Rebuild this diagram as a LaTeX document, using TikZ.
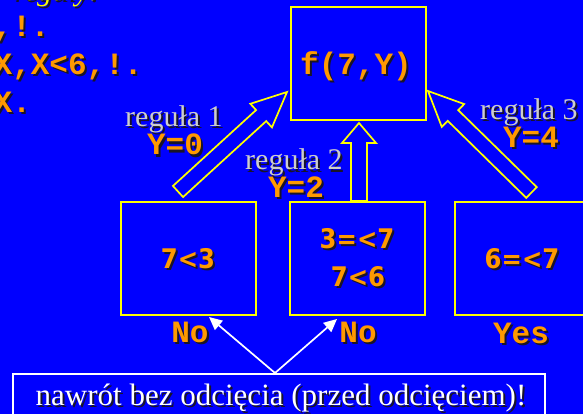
\documentclass[tikz,border=0pt]{standalone}
\usepackage{fontspec}
\setmainfont{Liberation Serif}
\newfontfamily\codefont{Liberation Mono Bold}
\newfontfamily\boxfont{DejaVu Sans Bold}[FakeStretch=0.9]
\usetikzlibrary{calc,arrows.meta}
\definecolor{bg}{RGB}{0,0,255}
\definecolor{ylw}{RGB}{255,255,0}
\definecolor{org}{RGB}{255,153,0}
\definecolor{gry}{RGB}{205,205,205}
\definecolor{shc}{RGB}{25,20,40}
\newcommand\shd[1]{\leavevmode\rlap{\hspace{2pt}\raisebox{-2pt}{\color{shc}#1}}#1}
\newcommand\blockarrow[5]{% tail, tip, head length, head half width, shaft half width
  \coordinate (ba-hb) at ($(#2)!#3!(#1)$);
  \draw[barrow] ($(#1)!#5!90:(#2)$) -- ($(ba-hb)!#5!-90:(#1)$) -- ($(ba-hb)!#4!-90:(#1)$) -- (#2)
     -- ($(ba-hb)!#4!90:(#1)$) -- ($(ba-hb)!#5!90:(#1)$) -- ($(#1)!#5!-90:(#2)$) -- cycle;
}
\begin{document}
\begin{tikzpicture}[x=1pt,y=-1pt,
  ybox/.style={draw=ylw, line width=1.9pt, inner sep=0pt, minimum width=135pt, minimum height=113pt},
  wbox/.style={draw=white, line width=1.9pt, inner sep=0pt},
  code/.style={text=org, font=\codefont\fontsize{31}{31}\selectfont, inner sep=0pt, anchor=base},
  rulelbl/.style={text=gry, font=\fontsize{30}{30}\selectfont, inner sep=0pt, anchor=base west},
  cmp/.style={text=org, font=\boxfont\fontsize{27}{27}\selectfont, inner sep=0pt, anchor=base},
  barrow/.style={draw=ylw, line width=1.7pt, fill=bg, line join=miter},
  warrow/.style={draw=white, line width=1.7pt, -{Triangle[length=13pt,width=12pt]}}]
\useasboundingbox (0,0) rectangle (583,414);
\fill[bg] (0,0) rectangle (583,414);
\clip (0,0) rectangle (583,414);

% top-left program text (cut by the border)
\node[anchor=base west, inner sep=0pt, text=ylw, font=\itshape\fontsize{30}{30}\selectfont] (hdr) at (13,0.5) {\shd{reguły:}};
\node[code, anchor=base west] (l1) at (-6.5,37) {\shd{,!.}};
\node[code, anchor=base west] (l2) at (-6.5,75) {\shd{X,X<6,!.}};
\node[code, anchor=base west] (l3) at (-6.5,113) {\shd{X.}};

% boxes
\node[ybox] (f) at (358.5,63.5) {};
\node[ybox] (a) at (188.5,258.5) {};
\node[ybox] (b) at (357.5,258.5) {};
\node[ybox] (c) at (522.5,258.5) {};
\node[wbox, minimum width=532pt, minimum height=66pt] (d) at (279,407) {};

% box texts
\node[code] (ft) at (356,75) {\shd{f(7,Y)}};
\node[cmp] (at) at (188,268) {\shd{7<3}};
\node[cmp] (bt1) at (357,248) {\shd{3=<7}};
\node[cmp] (bt2) at (358,286) {\shd{7<6}};
\node[cmp] (ct) at (522,268) {\shd{6=<7}};
\node[code] (an) at (190,342) {\shd{No}};
\node[code] (bn) at (358,342) {\shd{No}};
\node[code] (cn) at (521,343) {\shd{Yes}};
\node[inner sep=0pt, anchor=base, text=white, font=\fontsize{31}{31}\selectfont] (dt) at (281,405) {\shd{nawrót bez odcięcia (przed odcięciem)!}};

% rule labels
\node[rulelbl] (r1) at (125,127) {\shd{reguła 1}};
\node[code] (y1) at (175,155) {\shd{Y=0}};
\node[rulelbl] (r2) at (245,170) {\shd{reguła 2}};
\node[code] (y2) at (296,197) {\shd{Y=2}};
\node[rulelbl] (r3) at (480,120) {\shd{reguła 3}};
\node[code] (y3) at (531,148) {\shd{Y=4}};

% block arrows
\coordinate (t1) at (178,191.5);
\coordinate (h1) at (287,92);
\coordinate (t2) at (359,201);
\coordinate (h2) at (359,123);
\coordinate (t3) at (531.5,192.5);
\coordinate (h3) at (428,91);
\blockarrow{t1}{h1}{35pt}{16pt}{7.5pt}
\blockarrow{t2}{h2}{20pt}{17pt}{8pt}
\blockarrow{t3}{h3}{35pt}{16pt}{7.5pt}

% white arrows
\coordinate (apex) at (275,373);
\coordinate (na) at (209,317);
\coordinate (nb) at (337,319);
\draw[warrow] (apex) -- (na);
\draw[warrow] (apex) -- (nb);
\end{tikzpicture}
\end{document}
